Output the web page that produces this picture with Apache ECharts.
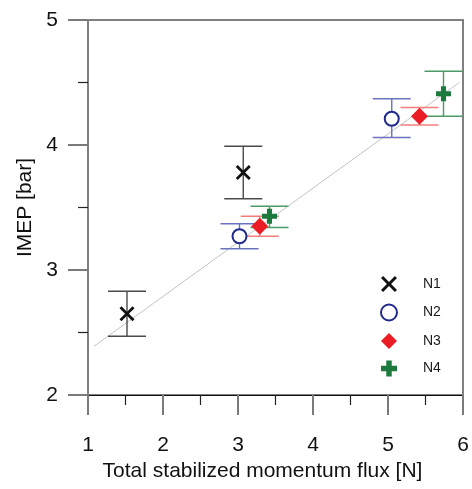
<!DOCTYPE html>
<html>
<head>
<meta charset="utf-8">
<script src="https://cdn.jsdelivr.net/npm/echarts@6/dist/echarts.min.js"></script>
<style>
  html, body { margin: 0; padding: 0; background: #fff; }
  #chart { width: 472px; height: 489px; }
</style>
</head>
<body>
<div id="chart"></div>
<script>
// Series names
const seriesNames = ['N1', 'N2', 'N3', 'N4'];

// Momentum flux [N] and mean IMEP [bar] with error-bar bounds per nozzle case
const n1X = [1.52, 3.07];
const n1Y = [2.65, 3.78];
const n1Lo = [2.47, 3.57];
const n1Hi = [2.83, 3.99];

const n2X = [3.02, 5.05];
const n2Y = [3.27, 4.21];
const n2Lo = [3.17, 4.06];
const n2Hi = [3.37, 4.37];

const n3X = [3.29, 5.42];
const n3Y = [3.35, 4.23];
const n3Lo = [3.27, 4.16];
const n3Hi = [3.43, 4.30];

const n4X = [3.42, 5.74];
const n4Y = [3.43, 4.41];
const n4Lo = [3.34, 4.23];
const n4Hi = [3.51, 4.59];

// Linear fit through all points (end points)
const fitX = [1.08, 5.95];
const fitY = [2.39, 4.50];

// Axis ranges
const xRange = [1, 6];
const yRange = [2, 5];

const FONT = 'Liberation Sans, Arial, sans-serif';

const crossPath = 'path://M0,13 L13,0 L50,37 L87,0 L100,13 L63,50 L100,87 L87,100 L50,63 L13,100 L0,87 L37,50 Z';
const plusPath = 'path://M33,0 H67 V33 H100 V67 H67 V100 H33 V67 H0 V33 H33 Z';

const groups = [
  { name: 'N1', x: n1X, y: n1Y, lo: n1Lo, hi: n1Hi, symbol: crossPath, size: 15, color: '#111111', barColor: '#4a4a4a' },
  { name: 'N2', x: n2X, y: n2Y, lo: n2Lo, hi: n2Hi, symbol: 'emptyCircle', size: 14, color: '#1f2a8c', barColor: '#6a72bf' },
  { name: 'N3', x: n3X, y: n3Y, lo: n3Lo, hi: n3Hi, symbol: 'diamond', size: 17, color: '#ec1c24', barColor: '#f47c7c' },
  { name: 'N4', x: n4X, y: n4Y, lo: n4Lo, hi: n4Hi, symbol: plusPath, size: 15, color: '#1c7a3e', barColor: '#4c9a66' }
];

const CAP_HALF = 19;

function errorBarSeries(g) {
  return {
    type: 'custom',
    name: g.name + '-err',
    z: 3,
    silent: true,
    clip: false,
    data: g.x.map((x, i) => [x, g.lo[i], g.hi[i]]),
    renderItem: function (params, api) {
      const x = api.value(0);
      const lo = api.coord([x, api.value(1)]);
      const hi = api.coord([x, api.value(2)]);
      const style = { stroke: g.barColor, lineWidth: 1.4, fill: null };
      return {
        type: 'group',
        children: [
          { type: 'line', shape: { x1: lo[0], y1: lo[1], x2: hi[0], y2: hi[1] }, style: style },
          { type: 'line', shape: { x1: hi[0] - CAP_HALF, y1: hi[1], x2: hi[0] + CAP_HALF, y2: hi[1] }, style: style },
          { type: 'line', shape: { x1: lo[0] - CAP_HALF, y1: lo[1], x2: lo[0] + CAP_HALF, y2: lo[1] }, style: style }
        ]
      };
    }
  };
}

function markerSeries(g) {
  const isEmpty = g.symbol === 'emptyCircle';
  return {
    type: 'scatter',
    name: g.name,
    z: 5,
    symbol: g.symbol,
    symbolSize: g.size,
    data: g.x.map((x, i) => [x, g.y[i]]),
    itemStyle: isEmpty
      ? { color: g.color, borderColor: g.color, borderWidth: 2, opacity: 1 }
      : { color: g.color, opacity: 1 },
    emphasis: { disabled: true }
  };
}

const series = [
  {
    type: 'line',
    name: 'fit',
    z: 1,
    silent: true,
    symbol: 'none',
    data: fitX.map((x, i) => [x, fitY[i]]),
    lineStyle: { color: '#c4c4c4', width: 1 }
  }
];
groups.forEach(g => series.push(errorBarSeries(g)));
groups.forEach(g => series.push(markerSeries(g)));

const chart = echarts.init(document.getElementById('chart'), null, { renderer: 'canvas' });

chart.setOption({
  animation: false,
  backgroundColor: '#ffffff',
  textStyle: { fontFamily: FONT },
  grid: {
    left: 88, top: 20, right: 9, bottom: 94,
    show: true,
    borderColor: '#808080',
    borderWidth: 2
  },
  legend: {
    data: seriesNames,
    orient: 'vertical',
    left: 375,
    top: 271,
    itemWidth: 16,
    itemHeight: 16,
    itemGap: 11.5,
    selectedMode: false,
    textStyle: { fontFamily: FONT, fontSize: 14, color: '#1a1a1a', padding: [0, 0, 0, 21] }
  },
  xAxis: {
    type: 'value',
    min: xRange[0],
    max: xRange[1],
    interval: 1,
    name: 'Total stabilized momentum flux [N]',
    nameLocation: 'middle',
    nameGap: 62,
    nameTextStyle: { fontFamily: FONT, fontSize: 21, color: '#111', padding: [0, 26, 0, 0] },
    axisLine: { show: true, lineStyle: { color: '#111', width: 1 } },
    axisTick: { show: true, inside: false, length: 20, lineStyle: { color: '#7a7a7a', width: 2 } },
    minorTick: { show: true, splitNumber: 2, length: 10, lineStyle: { color: '#222', width: 1.2 } },
    splitLine: { show: false },
    axisLabel: { fontFamily: FONT, fontSize: 21, color: '#111', margin: 40 }
  },
  yAxis: {
    type: 'value',
    min: yRange[0],
    max: yRange[1],
    interval: 1,
    name: 'IMEP [bar]',
    nameLocation: 'middle',
    nameGap: 52,
    nameRotate: 90,
    nameTextStyle: { fontFamily: FONT, fontSize: 21, color: '#111' },
    axisLine: { show: true, lineStyle: { color: '#808080', width: 2 } },
    axisTick: { show: true, inside: false, length: 20, lineStyle: { color: '#7a7a7a', width: 2 } },
    minorTick: { show: true, splitNumber: 2, length: 10, lineStyle: { color: '#222', width: 1.2 } },
    splitLine: { show: false },
    axisLabel: { fontFamily: FONT, fontSize: 21, color: '#111', margin: 30 }
  },
  series: series
});
</script>
</body>
</html>
